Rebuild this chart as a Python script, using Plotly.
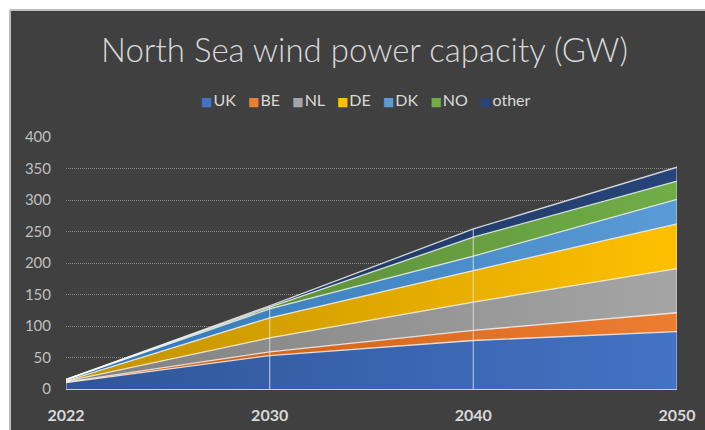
import plotly.graph_objects as go

# Installed capacity in the North Sea by country (GW), stacked
years = ["2022", "2030", "2040", "2050"]
uk = [10, 53, 77, 91]
be = [1, 6, 16, 30]
nl = [1, 22, 45, 70]
de = [1, 32, 50, 71]
dk = [2, 14, 23, 39]
no = [0, 3, 30, 29]
other = [0, 2, 13, 22]

series_names = ["UK", "BE", "NL", "DE", "DK", "NO", "other"]
series_values = [uk, be, nl, de, dk, no, other]
# (dark, light) ends of each band's left-to-right gradient
series_colors = [
    ("#2F5597", "#4472C4"),
    ("#C55A11", "#ED7D31"),
    ("#7F7F7F", "#A5A5A5"),
    ("#BF9000", "#FFC000"),
    ("#2E75B6", "#5B9BD5"),
    ("#548235", "#70AD47"),
    ("#1C3358", "#264478"),
]
y_ticks = [0, 50, 100, 150, 200, 250, 300, 350, 400]

BG = "#404040"
FONT = "Lato"

fig = go.Figure()

for name, vals, (dark, light) in zip(series_names, series_values, series_colors):
    fig.add_trace(go.Scatter(
        x=years, y=vals, name=name, stackgroup="cap",
        mode="lines",
        line=dict(color="rgba(255,255,255,0.78)", width=1.3),
        fillcolor=light,
        fillgradient=dict(type="horizontal",
                          colorscale=[[0, dark], [1, light]]),
        showlegend=False,
    ))

# Drop lines from the top of the stack down to the axis
totals = [sum(col) for col in zip(*series_values)]
drop_x, drop_y = [], []
for yr, tot in zip(years, totals):
    drop_x += [yr, yr, None]
    drop_y += [0, tot, None]
fig.add_trace(go.Scatter(
    x=drop_x, y=drop_y, mode="lines", hoverinfo="skip",
    line=dict(color="rgba(235,235,235,0.6)", width=1.3),
    showlegend=False,
))

# Compact legend row with coloured squares
legend_parts = []
for name, (dark, light) in zip(series_names, series_colors):
    legend_parts.append(
        f"<span style='color:{light};font-size:12px;font-family:DejaVu Sans'>■</span>"
        f"<span style='font-size:4px'> </span>{name}"
    )
legend_text = "&nbsp;&nbsp;&nbsp;".join(legend_parts)

fig.update_layout(
    width=705, height=430,
    margin=dict(l=66, r=28, t=137, b=41, autoexpand=False),
    paper_bgcolor=BG, plot_bgcolor=BG,
    font=dict(family=FONT, color="#D9D9D9"),
    title=dict(
        text="North Sea wind power capacity (GW)",
        font=dict(family=FONT, size=33, color="#D9D9D9", weight=300),
        x=364.5 / 705, xref="container", xanchor="center",
        y=1 - 50 / 430, yref="container", yanchor="middle",
    ),
    xaxis=dict(
        type="category", range=[0, 3], showgrid=False, zeroline=False,
        showline=True, linecolor="#CFCFCF", linewidth=1.3,
        ticks="", ticklabelstandoff=12, automargin=False,
        tickfont=dict(family=FONT, size=16, color="#D9D9D9", weight="bold"),
        fixedrange=True,
    ),
    yaxis=dict(
        range=[0, 400], tickvals=y_ticks, zeroline=False,
        showgrid=True, gridcolor="#8A8A8A", griddash="1px,1px", gridwidth=1,
        ticks="", ticklabelstandoff=14, automargin=False,
        tickfont=dict(family=FONT, size=15, color="#BFBFBF"),
        fixedrange=True,
    ),
    annotations=[dict(
        text=legend_text, showarrow=False,
        xref="paper", yref="paper",
        x=(366 - 66) / 611, y=(389 - 99) / 252,
        xanchor="center", yanchor="middle",
        font=dict(family=FONT, size=16, color="#D9D9D9"),
    )],
    shapes=[
        # light page strip above and left of the chart panel
        dict(type="rect", xref="paper", yref="paper", layer="above",
             x0=-0.2, x1=1.2, y0=(389 - 10) / 252, y1=1.7,
             fillcolor="#FFFFFF", line=dict(width=0)),
        dict(type="rect", xref="paper", yref="paper", layer="above",
             x0=-0.2, x1=(10 - 66) / 611, y0=-0.3, y1=1.7,
             fillcolor="#FFFFFF", line=dict(width=0)),
        # panel border
        dict(type="line", xref="paper", yref="paper", layer="above",
             x0=(10 - 66) / 611, x1=1.2, y0=(389 - 10) / 252, y1=(389 - 10) / 252,
             line=dict(color="#BDBDBD", width=2)),
        dict(type="line", xref="paper", yref="paper", layer="above",
             x0=(10 - 66) / 611, x1=(10 - 66) / 611, y0=-0.3, y1=(389 - 10) / 252,
             line=dict(color="#BDBDBD", width=2)),
    ],
)

fig.write_html("out.html")
